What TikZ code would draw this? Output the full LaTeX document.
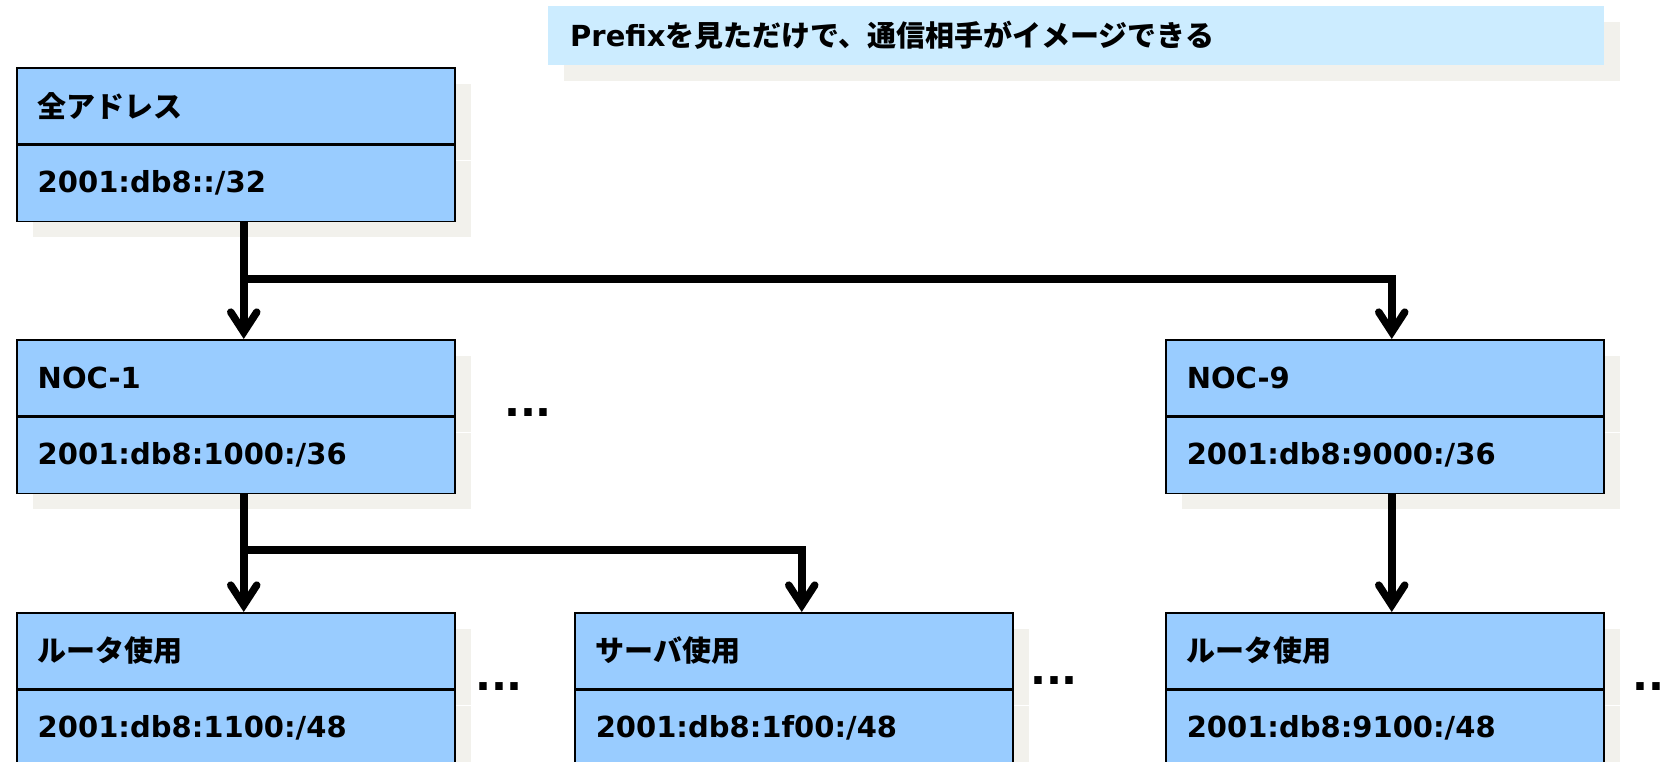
\documentclass[tikz,border=0pt]{standalone}
\usepackage{fontspec}
\setmainfont{DejaVu Sans}
\newfontfamily\jpf{Noto Sans CJK JP}
\usetikzlibrary{arrows.meta,shadows}
\definecolor{cellblue}{HTML}{99CCFF}
\definecolor{bannerblue}{HTML}{CCECFF}
\definecolor{shadowgray}{HTML}{F2F1EC}
\tikzset{
  cell/.style={draw=black, line width=1.5pt, fill=cellblue, minimum height=76pt,
    text width=396pt, inner xsep=21pt, inner ysep=0pt, align=left,
    font=\fontsize{29}{34}\selectfont\bfseries, anchor=north west,
    general shadow={fill=shadowgray, draw=none, shadow xshift=16pt, shadow yshift=-16pt}},
  banner/.style={fill=bannerblue, minimum height=59pt, text width=1012pt,
    inner xsep=22pt, inner ysep=0pt, align=left, anchor=north west,
    font=\fontsize{29}{34}\selectfont\bfseries,
    general shadow={fill=shadowgray, shadow xshift=16pt, shadow yshift=-16pt}},
  dots/.style={font=\fontsize{42}{42}\selectfont\bfseries, inner sep=0pt},
  arr/.style={line width=7.5pt,
    -{Straight Barb[length=20pt, width=26pt, line cap=round, line join=miter]}},
}
\begin{document}
\begin{tikzpicture}[x={(1pt,0)}, y={(0,-1pt)}]
\useasboundingbox (0,0) rectangle (1663,761);
\clip (0,0) rectangle (1663,761);
\fill[white] (0,0) rectangle (1663,761);

\node[banner] (ban) at (548,6) {Prefix{\jpf を見ただけで、通信相手がイメージできる}};

\node[cell] (allA) at (16,67) {\jpf 全アドレス};
\node[cell] (allB) at (allA.south west) {2001:db8::/32};

\node[cell] (noc1A) at (16,339) {NOC-1};
\node[cell] (noc1B) at (noc1A.south west) {2001:db8:1000:/36};

\node[cell] (noc9A) at (1165,339) {NOC-9};
\node[cell] (noc9B) at (noc9A.south west) {2001:db8:9000:/36};

\node[cell] (r1A) at (16,612) {\jpf ルータ使用};
\node[cell] (r1B) at (r1A.south west) {2001:db8:1100:/48};

\node[cell] (s1A) at (574,612) {\jpf サーバ使用};
\node[cell] (s1B) at (s1A.south west) {2001:db8:1f00:/48};

\node[cell] (r9A) at (1165,612) {\jpf ルータ使用};
\node[cell] (r9B) at (r9A.south west) {2001:db8:9100:/48};

\node[dots] (d1) at (528,413) {...};
\node[dots] (d2) at (499,687) {...};
\node[dots] (d3) at (1054,681) {...};
\node[dots] (d4) at (1656,687) {...};

\coordinate (j1) at (243,279);
\coordinate (j2) at (243,550);
\draw[arr] ([xshift=8pt]allB.south) -- ([xshift=8pt]noc1A.north);
\draw[arr] (j1) -| ([xshift=7pt]noc9A.north);
\draw[arr] ([xshift=8pt]noc1B.south) -- ([xshift=8pt]r1A.north);
\draw[arr] (j2) -| ([xshift=8pt]s1A.north);
\draw[arr] ([xshift=7pt]noc9B.south) -- ([xshift=7pt]r9A.north);
\end{tikzpicture}
\end{document}
